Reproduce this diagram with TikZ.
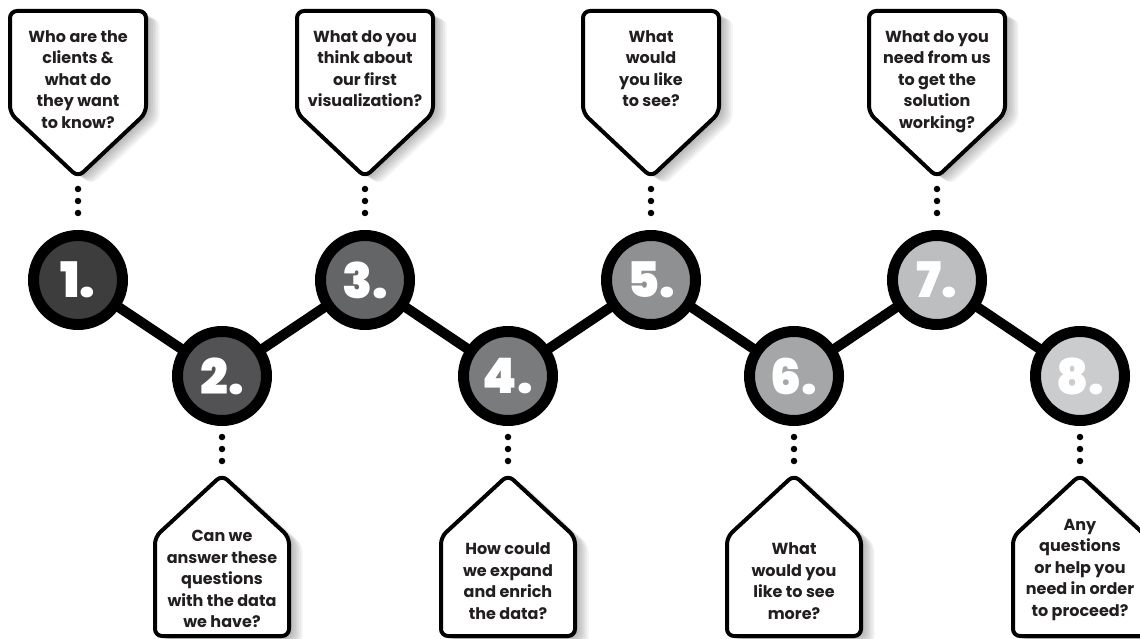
\documentclass[tikz,border=0pt]{standalone}
\usepackage{fontspec}
\setmainfont{Poppins}
\newfontfamily\numfont{Poppins Black}
\usetikzlibrary{backgrounds}
\definecolor{ink}{HTML}{231F20}
\definecolor{tone1}{HTML}{3D3D3E}
\definecolor{tone2}{HTML}{525254}
\definecolor{tone3}{HTML}{646567}
\definecolor{tone4}{HTML}{7A7B7D}
\definecolor{tone5}{HTML}{8F9092}
\definecolor{tone6}{HTML}{A5A6A8}
\definecolor{tone7}{HTML}{BDBEC0}
\definecolor{tone8}{HTML}{CBCCCE}
\begin{document}
\begin{tikzpicture}[x=1pt,y=-1pt,
  milestone/.style={circle,draw=black,line width=11pt,minimum size=89pt,
    inner sep=0pt,text=white,font=\numfont\fontsize{49}{49}\selectfont},
  askbox/.style={draw=black,line width=4pt,fill=white,rounded corners=7pt},
  askshade/.style={fill=black,opacity=0.045,rounded corners=7pt},
  asktext/.style={align=center,inner sep=0pt,text=ink,
    font=\bfseries\fontsize{16}{21.5}\selectfont},
  dotline/.style={line width=6.5pt,line cap=round,dash pattern=on 0pt off 12pt},
  link/.style={line width=10pt,shorten <=-4pt,shorten >=-4pt}]
  \useasboundingbox (0,0) rectangle (1140,639);
  \clip (0,0) rectangle (1140,639);
  % milestones
  \foreach \i/\x/\y in {1/78/280, 2/222/376, 3/365/280, 4/508/376,
    5/651/280, 6/794/376, 7/937/280, 8/1080/376}
    \node[milestone,fill=tone\i] (c\i) at (\x,\y) {\i.};
  \begin{scope}[on background layer]
    \foreach \i/\j in {1/2, 2/3, 3/4, 4/5, 5/6, 6/7, 7/8}
      \draw[link] (c\i) -- (c\j);
  \end{scope}
  % questions above
  \foreach \i/\x/\t in {
    1/78/{Who are the\\clients \&\\what do\\they want\\to know?},
    3/365/{What do you\\think about\\our first\\visualization?},
    5/651/{What\\would\\you like\\to see?},
    7/937/{What do you\\need from us\\to get the\\solution\\working?}} {
    \foreach \k in {1,...,8}
      \fill[askshade,shift={(\k*1.7,\k*1.0)}] ({\x-68},11) -- ({\x+68},11)
        -- ({\x+68},113) -- (\x,177) -- ({\x-68},113) -- cycle;
    \draw[askbox] ({\x-68},11) -- ({\x+68},11) -- ({\x+68},113)
      -- (\x,177) -- ({\x-68},113) -- cycle;
    \coordinate (t\i) at (\x,177);
    \node[asktext,anchor=north] (q\i) at (\x,30) {\t};
    \draw[dotline,shorten <=12pt,shorten >=16.5pt] (t\i) -- (c\i.north);
  }
  % questions below
  \foreach \i/\x/\m/\t in {
    2/222/579/{Can we\\answer these\\questions\\with the data\\we have?},
    4/508/581/{How could\\we expand\\and enrich\\the data?},
    6/794/581/{What\\would you\\like to see\\more?},
    8/1080/570/{Any\\questions\\or help you\\need in order\\to proceed?}} {
    \foreach \k in {1,...,8}
      \fill[askshade,shift={(\k*1.7,\k*1.0)}] (\x,475) -- ({\x+67},537)
        -- ({\x+67},636) -- ({\x-67},636) -- ({\x-67},537) -- cycle;
    \draw[askbox] (\x,475) -- ({\x+67},537) -- ({\x+67},636)
      -- ({\x-67},636) -- ({\x-67},537) -- cycle;
    \coordinate (t\i) at (\x,475);
    \node[asktext] (q\i) at (\x,\m) {\t};
    \draw[dotline,shorten <=11pt,shorten >=12.5pt] (c\i.south) -- (t\i);
  }
\end{tikzpicture}
\end{document}
